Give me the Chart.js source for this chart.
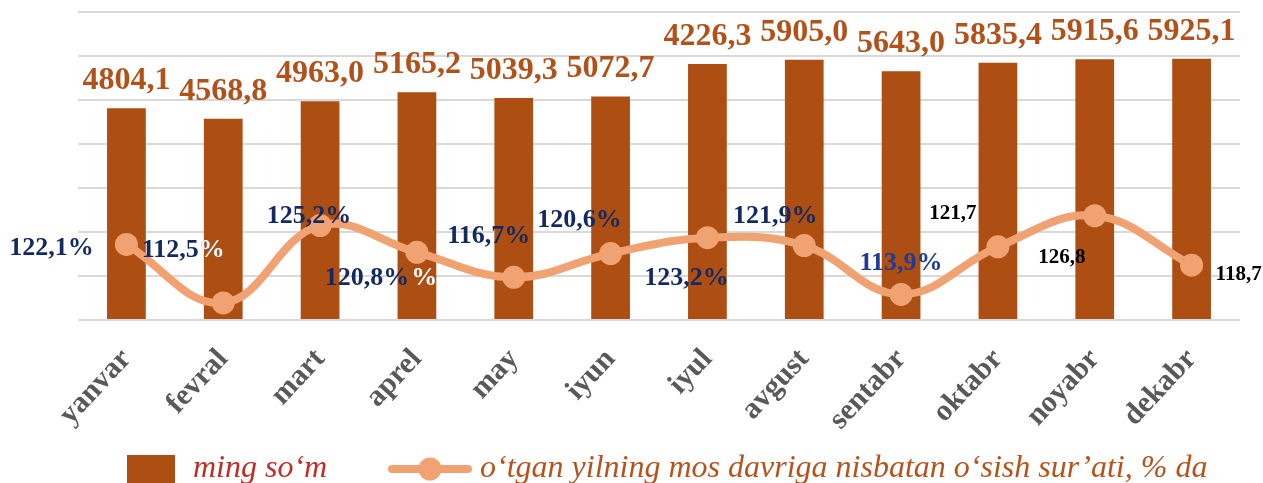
<!DOCTYPE html>
<html>
<head>
<meta charset="utf-8">
<script src="https://cdn.jsdelivr.net/npm/chart.js@4.4.1/dist/chart.umd.min.js"></script>
<style>
  html, body { margin: 0; padding: 0; background: #ffffff; }
  #wrap { width: 1263px; height: 483px; }
</style>
</head>
<body>
<div id="wrap"><canvas id="c" width="1263" height="483"></canvas></div>
<script>
// ---- data ----
const months = ['yanvar', 'fevral', 'mart', 'aprel', 'may', 'iyun', 'iyul', 'avgust', 'sentabr', 'oktabr', 'noyabr', 'dekabr'];
const wageValues = [4804.1, 4568.8, 4963.0, 5165.2, 5039.3, 5072.7, 5810.0, 5905.0, 5643.0, 5835.4, 5915.6, 5925.1];
const wageLabels = ['4804,1', '4568,8', '4963,0', '5165,2', '5039,3', '5072,7', '4226,3', '5905,0', '5643,0', '5835,4', '5915,6', '5925,1'];
const growthValues = [122.1, 112.5, 125.2, 120.8, 116.7, 120.6, 123.2, 121.9, 113.9, 121.7, 126.8, 118.7];
const growthLabels = ['122,1%', '112,5%', '125,2%', '120,8%', '116,7%', '120,6%', '123,2%', '121,9%', '113,9%', '121,7', '126,8', '118,7'];
const seriesNames = ['ming so‘m', 'o‘tgan yilning mos davriga nisbatan o‘sish sur’ati, % da'];

// ---- styles ----
const BAR_COLOR = '#AD4E12';
const LINE_COLOR = '#F1A272';
const BAR_LABEL_COLOR = '#B0521A';
const NAVY = '#13295f';
const SERIF = '"Liberation Serif", "Times New Roman", serif';

const lineLabelLayout = [
  { dx: -75, dy: 4 },
  { dx: -40, dy: -53, tailWhite: 1 },
  { dx: -11, dy: -9 },
  { dx: -50, dy: 26, appendWhite: '%', gap: 2 },
  { dx: -25, dy: -41 },
  { dx: -31, dy: -33 },
  { dx: -21, dy: 41 },
  { dx: -29, dy: -29 },
  { dx: 0, dy: -31, font: 'bold 26px ' + SERIF, color: '#1f3b93' },
  { dx: -45, dy: -33, font: 'bold 21px ' + SERIF, color: '#000000' },
  { dx: -33, dy: 42, font: 'bold 21px ' + SERIF, color: '#000000' },
  { dx: 47, dy: 9, font: 'bold 21px ' + SERIF, color: '#000000' }
];

const labelPlugin = {
  id: 'labelPlugin',
  afterDatasetsDraw(chart) {
    const ctx = chart.ctx;
    ctx.save();
    // bar value labels
    const barMeta = chart.getDatasetMeta(1);
    ctx.font = 'bold 32px ' + SERIF;
    ctx.fillStyle = BAR_LABEL_COLOR;
    ctx.textAlign = 'center';
    ctx.textBaseline = 'alphabetic';
    barMeta.data.forEach((bar, i) => {
      ctx.fillText(wageLabels[i], bar.x, bar.y - 19);
    });
    // line labels
    const lineMeta = chart.getDatasetMeta(0);
    ctx.textBaseline = 'middle';
    lineMeta.data.forEach((pt, i) => {
      const L = lineLabelLayout[i];
      const txt = growthLabels[i];
      ctx.font = L.font || ('bold 26px ' + SERIF);
      ctx.fillStyle = L.color || NAVY;
      ctx.textAlign = 'center';
      const cx = pt.x + L.dx, cy = pt.y + L.dy;
      ctx.fillText(txt, cx, cy);
      const w = ctx.measureText(txt).width;
      const left = cx - w / 2;
      ctx.textAlign = 'left';
      if (L.tailWhite) {
        const head = txt.slice(0, txt.length - L.tailWhite);
        const tail = txt.slice(txt.length - L.tailWhite);
        const hw = ctx.measureText(head).width;
        ctx.fillStyle = '#ffffff';
        ctx.fillText(tail, left + hw, cy);
      }
      if (L.appendWhite) {
        ctx.fillStyle = '#ffffff';
        ctx.fillText(L.appendWhite, left + w + (L.gap || 0), cy);
      }
    });
    ctx.restore();
  },
  afterDraw(chart) {
    const ctx = chart.ctx;
    ctx.save();
    // legend item 1: bar
    ctx.fillStyle = BAR_COLOR;
    ctx.fillRect(127, 455, 48, 30);
    ctx.font = 'italic 32px ' + SERIF;
    ctx.textBaseline = 'alphabetic';
    ctx.textAlign = 'left';
    ctx.fillStyle = '#C32B27';
    ctx.fillText(seriesNames[0], 193, 477);
    // legend item 2: line with marker
    ctx.strokeStyle = LINE_COLOR;
    ctx.lineWidth = 8;
    ctx.lineCap = 'round';
    ctx.beginPath();
    ctx.moveTo(392, 469);
    ctx.lineTo(468, 469);
    ctx.stroke();
    ctx.fillStyle = LINE_COLOR;
    ctx.beginPath();
    ctx.arc(430, 469, 11.5, 0, Math.PI * 2);
    ctx.fill();
    ctx.fillStyle = '#B4541C';
    ctx.fillText(seriesNames[1], 480, 477);
    ctx.restore();
  }
};

new Chart(document.getElementById('c'), {
  data: {
    labels: months,
    datasets: [
      {
        type: 'line',
        label: seriesNames[1],
        data: growthValues,
        yAxisID: 'y1',
        borderColor: LINE_COLOR,
        backgroundColor: LINE_COLOR,
        borderWidth: 8,
        tension: 0.4,
        pointRadius: 11.5,
        pointBorderWidth: 0,
        pointBackgroundColor: LINE_COLOR,
        order: 0,
        clip: false
      },
      {
        type: 'bar',
        label: seriesNames[0],
        data: wageValues,
        yAxisID: 'y',
        backgroundColor: BAR_COLOR,
        borderWidth: 0,
        barPercentage: 0.4,
        categoryPercentage: 1.0,
        order: 1
      }
    ]
  },
  options: {
    responsive: false,
    animation: false,
    devicePixelRatio: 1,
    layout: { padding: { left: 78, right: 23, top: 9, bottom: 0 } },
    plugins: {
      legend: { display: false },
      tooltip: { enabled: false }
    },
    scales: {
      x: {
        grid: { display: false },
        border: { display: false },
        ticks: {
          autoSkip: false,
          minRotation: 47,
          maxRotation: 47,
          padding: 14,
          color: '#595959',
          font: { family: SERIF, size: 30, weight: 'bold' }
        },
        afterFit(scale) { scale.height = 163; }
      },
      y: {
        min: 0,
        max: 7000,
        ticks: { display: false, stepSize: 1000 },
        grid: { color: '#d9d9d9', lineWidth: 2, drawTicks: false },
        border: { display: false },
        afterFit(scale) { scale.width = 0; }
      },
      y1: {
        display: false,
        min: 109.7,
        max: 160.3
      }
    }
  },
  plugins: [labelPlugin]
});
</script>
</body>
</html>
